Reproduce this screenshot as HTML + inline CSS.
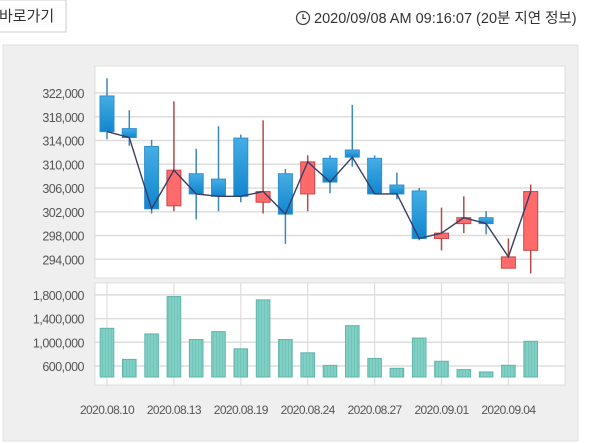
<!DOCTYPE html>
<html><head><meta charset="utf-8"><style>
body{margin:0;width:600px;height:443px;overflow:hidden;background:#fff;font-family:"Liberation Sans","Noto Sans CJK KR",sans-serif;}
svg{position:absolute;left:0;top:0}
</style></head><body>
<svg id="c" width="600" height="443" xmlns="http://www.w3.org/2000/svg">
<defs>
<linearGradient id="gb" x1="0" y1="0" x2="0" y2="1"><stop offset="0" stop-color="#45aee4"/><stop offset="1" stop-color="#1185cf"/></linearGradient>
<pattern id="stripe" width="3" height="4" patternUnits="userSpaceOnUse"><rect width="3" height="4" fill="#80d0c5"/><rect width="1" height="4" fill="#72c3b8"/></pattern>
</defs>
<rect x="-1" y="0" width="67" height="32" fill="#fff" stroke="#ccc"/>
<text x="-1" y="21" font-size="15" fill="#333">바로가기</text>
<g><circle cx="303" cy="18" r="6.5" fill="none" stroke="#444" stroke-width="1.3"/><path d="M303 14v4.5h3" fill="none" stroke="#444" stroke-width="1.3"/></g>
<text x="314" y="23" font-size="14.5" fill="#333">2020/09/08 AM 09:16:07 (20분 지연 정보)</text>
<rect x="3" y="45" width="575" height="396" fill="#efefef" stroke="#e2e2e2"/>
<rect x="95" y="66" width="470" height="212" fill="#fff" stroke="#ddd"/>
<rect x="95" y="283" width="470" height="102" fill="#fff" stroke="#ddd"/>
<g id="g"></g>
</svg>
<script>
const dates=["2020.08.10","2020.08.11","2020.08.12","2020.08.13","2020.08.14","2020.08.18","2020.08.19","2020.08.20","2020.08.21","2020.08.24","2020.08.25","2020.08.26","2020.08.27","2020.08.28","2020.08.31","2020.09.01","2020.09.02","2020.09.03","2020.09.04","2020.09.07"];
const opens=[321500,316000,313000,303000,308400,307500,314400,303600,308400,305000,311000,312400,311000,306500,305500,297500,300000,301000,292500,295500];
const highs=[324500,319100,314100,320600,312600,316400,315000,317400,309200,311500,311500,320000,311500,308600,306000,302700,304600,302100,297500,306600];
const lows=[314200,313100,301700,302100,300700,302100,303600,301700,296600,302100,305100,309600,305000,304100,297200,295500,298400,298200,292500,291600];
const closes=[315500,314500,302500,309000,305000,304600,304600,305400,301600,310400,307000,311200,305000,305000,297500,298400,301000,300000,294400,305400];
const volumes=[1236000,712000,1141000,1772000,1047000,1180000,890000,1716000,1047000,823000,611000,1281000,728000,561000,1072000,680000,539000,500000,612000,1017000];
const priceTicks=[322000,318000,314000,310000,306000,302000,298000,294000];
const volTicks=[1800000,1400000,1000000,600000];
const labelIdx=[0,3,6,9,12,15,18];
const NS="http://www.w3.org/2000/svg",g=document.getElementById('g');
const X=i=>107+i*22.3;
const Y=v=>93+(322000-v)*23.75/4000;
const VY=v=>366-(v-600000)*23.7/400000;
function mk(t,a,txt){const e=document.createElementNS(NS,t);for(const k in a)e.setAttribute(k,a[k]);if(txt!=null)e.textContent=txt;g.appendChild(e);return e;}
const fmt=v=>v.toLocaleString('en-US');
priceTicks.forEach(v=>{
 const l=mk('line',{x1:95,x2:565,y1:Y(v),y2:Y(v),stroke:'#dedede','stroke-width':1.5});
 
 
 const t=mk('text',{x:84,y:Y(v)+5,'font-size':12.5,fill:'#555','text-anchor':'end','letter-spacing':'-0.5'},fmt(v));
 
 
});
volTicks.forEach(v=>{
 const l=mk('line',{x1:95,x2:565,y1:VY(v),y2:VY(v),stroke:'#dedede','stroke-width':1.5});
 
 
 const t=mk('text',{x:84,y:VY(v)+5,'font-size':12.5,fill:'#555','text-anchor':'end','letter-spacing':'-0.5'},fmt(v));
 
 
});
labelIdx.forEach(i=>{
 const l=mk('line',{x1:X(i),x2:X(i),y1:283,y2:385,stroke:'#dedede','stroke-width':1.2});
 
 
 const t=mk('text',{x:X(i),y:414,'font-size':12,fill:'#555','text-anchor':'middle','letter-spacing':'-0.6'},dates[i]);
 
 
});
volumes.forEach((v,i)=>{
 const r=mk('rect',{x:X(i)-6.8,y:VY(v),width:13.6,height:377-VY(v),fill:'url(#stripe)',stroke:'#62b5aa','stroke-width':1});
 
 
});
opens.forEach((o,i)=>{
 const c=closes[i],up=c>=o;
 const wc=up?'#b24a4a':'#3d86b8';
 const w=mk('line',{x1:X(i),x2:X(i),y1:Y(highs[i]),y2:Y(lows[i]),stroke:wc,'stroke-width':1.5});
 
 
 const top=Y(Math.max(o,c)),bot=Y(Math.min(o,c));
 const b=mk('rect',{x:X(i)-7,y:top,width:14,height:Math.max(bot-top,2),fill:up?'#ff6b6b':'url(#gb)',stroke:up?'#c84848':'#2f8fcf','stroke-width':1});
 
 
});
const pl=mk('polyline',{points:closes.map((c,i)=>X(i)+','+Y(c)).join(' '),fill:'none',stroke:'#383c66','stroke-width':1.4});


</script>
</body></html>
